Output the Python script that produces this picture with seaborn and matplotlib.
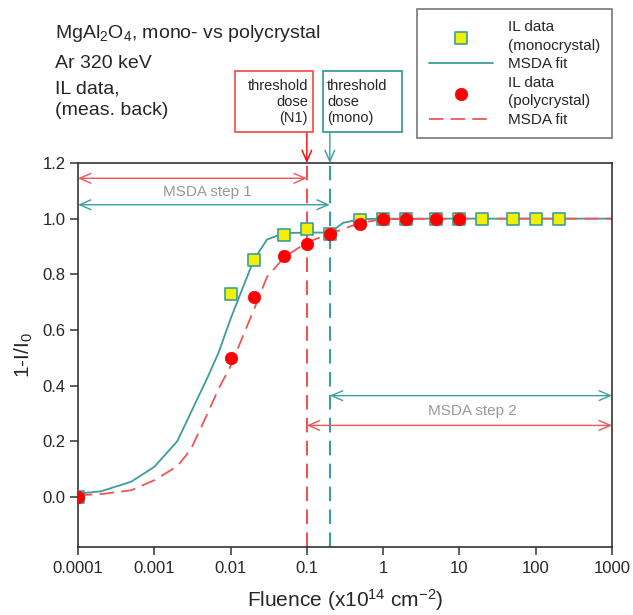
import matplotlib
matplotlib.use("Agg")
import matplotlib.pyplot as plt
from matplotlib.patches import Rectangle
import seaborn as sns
import pandas as pd

# ---- data ----
mono_x = [1e-4, 0.01, 0.02, 0.05, 0.1, 0.2, 0.5, 1, 2, 5, 10, 20, 50, 100, 200]
mono_y = [0.0, 0.73, 0.85, 0.94, 0.963, 0.945, 0.995, 1.0, 1.0, 1.0, 1.0, 1.0, 1.0, 1.0, 1.0]
poly_x = [1e-4, 0.01, 0.02, 0.05, 0.1, 0.2, 0.5, 1, 2, 5, 10]
poly_y = [0.0, 0.50, 0.72, 0.865, 0.91, 0.945, 0.98, 1.0, 1.0, 1.0, 1.0]

mono_fit_x = [1e-4, 2e-4, 5e-4, 1e-3, 2e-3, 5e-3, 7e-3, 1e-2, 2e-2, 3e-2, 5e-2, 0.1, 0.2, 0.3, 0.5, 1, 10, 100, 1000]
mono_fit_y = [0.012, 0.02, 0.055, 0.108, 0.20, 0.43, 0.52, 0.64, 0.85, 0.925, 0.948, 0.95, 0.95, 0.985, 0.998, 1.0, 1.0, 1.0, 1.0]
poly_fit_x = [1e-4, 2e-4, 5e-4, 1e-3, 2e-3, 3e-3, 5e-3, 7e-3, 1e-2, 2e-2, 3e-2, 5e-2, 0.1, 0.2, 0.5, 1, 10, 100, 1000]
poly_fit_y = [0.006, 0.01, 0.024, 0.06, 0.11, 0.17, 0.30, 0.39, 0.47, 0.67, 0.79, 0.86, 0.915, 0.945, 0.985, 0.998, 1.0, 1.0, 1.0]

threshold_poly = 0.1
threshold_mono = 0.2
x_ticks = [1e-4, 1e-3, 1e-2, 0.1, 1, 10, 100, 1000]
x_ticklabels = ["0.0001", "0.001", "0.01", "0.1", "1", "10", "100", "1000"]
y_ticks = [0.0, 0.2, 0.4, 0.6, 0.8, 1.0, 1.2]

TEAL = "#3a9e9e"
RED = "#ff0000"
RED_LINE = "#f05555"
YELLOW = "#f0f000"

sns.set_style("white")
plt.rcParams["font.family"] = ["Liberation Sans", "DejaVu Sans"]
plt.rcParams["mathtext.default"] = "regular"

fig = plt.figure(figsize=(6.33, 6.15), dpi=100)
ax = fig.add_axes([78/633, 1-547/615, (612-78)/633, (547-163)/615])

mono_fit = pd.DataFrame({"x": mono_fit_x, "y": mono_fit_y})
poly_fit = pd.DataFrame({"x": poly_fit_x, "y": poly_fit_y})
mono = pd.DataFrame({"x": mono_x, "y": mono_y})
poly = pd.DataFrame({"x": poly_x, "y": poly_y})

sns.lineplot(data=mono_fit, x="x", y="y", ax=ax, color=TEAL, lw=1.3, label="MSDA fit", zorder=2)
sns.lineplot(data=poly_fit, x="x", y="y", ax=ax, color=RED_LINE, lw=1.3, label="MSDA fit", zorder=2)
ax.lines[-1].set_dashes([8, 4])
sns.scatterplot(data=mono, x="x", y="y", ax=ax, marker="s", s=70, color=YELLOW,
                edgecolor=TEAL, linewidth=1.2, label="IL data\n(monocrystal)", zorder=3)
sns.scatterplot(data=poly, x="x", y="y", ax=ax, marker="o", s=80, color=RED,
                edgecolor=RED, linewidth=0.5, label="IL data\n(polycrystal)", zorder=4)

ax.set_xscale("log")
ax.set_xlim(1e-4, 1000)
ax.set_ylim(-0.18, 1.2)
ax.set_xticks(x_ticks)
ax.set_xticklabels(x_ticklabels)
ax.minorticks_off()
ax.set_yticks(y_ticks)
ax.set_yticklabels([f"{v:.1f}" for v in y_ticks])
ax.tick_params(axis="both", direction="out", length=6, width=1.1, labelsize=12,
               color="#333333", bottom=True, left=True, top=False, right=False)
ax.tick_params(axis="x", pad=4)
ax.tick_params(axis="y", pad=3)
for s in ax.spines.values():
    s.set_color("#333333")
    s.set_linewidth(1.2)
ax.set_xlabel("Fluence (x10$^{14}$ cm$^{-2}$)", fontsize=15, labelpad=8)
ax.set_ylabel("1-I/I$_0$", fontsize=15, labelpad=5)

# threshold lines
ax.axvline(threshold_poly, color=RED_LINE, lw=1.5, dashes=[7, 4], zorder=1.5)
ax.axvline(threshold_mono, color=TEAL, lw=1.5, dashes=[7, 4], zorder=1.5)

# MSDA step arrows
arr_kw = dict(arrowstyle="<->,head_length=0.8,head_width=0.35", lw=1.0, shrinkA=0, shrinkB=0)
ax.annotate("", xy=(1e-4, 1.145), xytext=(threshold_poly, 1.145),
            arrowprops=dict(color=RED_LINE, **arr_kw))
ax.annotate("", xy=(1e-4, 1.05), xytext=(threshold_mono, 1.05),
            arrowprops=dict(color=TEAL, **arr_kw))
ax.text(0.005, 1.097, "MSDA step 1", color="#999999", fontsize=11, ha="center", va="center")
ax.annotate("", xy=(threshold_mono, 0.364), xytext=(1000, 0.364),
            arrowprops=dict(color=TEAL, **arr_kw))
ax.annotate("", xy=(threshold_poly, 0.257), xytext=(1000, 0.257),
            arrowprops=dict(color=RED_LINE, **arr_kw))
ax.text(15, 0.31, "MSDA step 2", color="#999999", fontsize=11, ha="center", va="center")

# threshold boxes
fig.patches.append(Rectangle((235/633, 1-132/615), 78/633, 61/615, transform=fig.transFigure,
                             fill=False, edgecolor=RED_LINE, lw=1.3))
fig.patches.append(Rectangle((323/633, 1-132/615), 79/633, 61/615, transform=fig.transFigure,
                             fill=False, edgecolor=TEAL, lw=1.3))
fig.text(308/633, 1-79/615, "threshold\ndose\n(N1)", ha="right", va="top", fontsize=10.5,
         linespacing=1.2)
fig.text(327/633, 1-79/615, "threshold\ndose\n(mono)", ha="left", va="top", fontsize=10.5,
         linespacing=1.2)
ax.annotate("", xy=(threshold_poly, 1.0), xycoords=("data", "axes fraction"),
            xytext=(threshold_poly, 1 + 31/384), textcoords=("data", "axes fraction"),
            arrowprops=dict(arrowstyle="->,head_length=0.8,head_width=0.35", color=RED, lw=1.0,
                            shrinkA=0, shrinkB=0), annotation_clip=False)
ax.annotate("", xy=(threshold_mono, 1.0), xycoords=("data", "axes fraction"),
            xytext=(threshold_mono, 1 + 31/384), textcoords=("data", "axes fraction"),
            arrowprops=dict(arrowstyle="->,head_length=0.8,head_width=0.35", color=TEAL, lw=1.0,
                            shrinkA=0, shrinkB=0), annotation_clip=False)

# header text
fig.text(55/633, 1-33/615, "MgAl$_2$O$_4$, mono- vs polycrystal", fontsize=14, va="center", ha="left")
fig.text(55/633, 1-63/615, "Ar 320 keV", fontsize=14, va="center", ha="left")
fig.text(55/633, 1-89/615, "IL data,", fontsize=14, va="center", ha="left")
fig.text(55/633, 1-111/615, "(meas. back)", fontsize=14, va="center", ha="left")

# legend
h, l = ax.get_legend_handles_labels()
order = [2, 0, 3, 1]
leg = ax.legend([h[i] for i in order], [l[i] for i in order],
                loc="upper right", bbox_to_anchor=(612/633, 1-9/615), bbox_transform=fig.transFigure,
                borderaxespad=0, fontsize=11, frameon=True, fancybox=False, edgecolor="#555555",
                handlelength=4.2, borderpad=0.75, labelspacing=0.3, handletextpad=1.0)
for t in leg.get_texts():
    t.set_linespacing(1.4)
leg.get_frame().set_linewidth(1.2)

fig.savefig("out.png", dpi=100)
